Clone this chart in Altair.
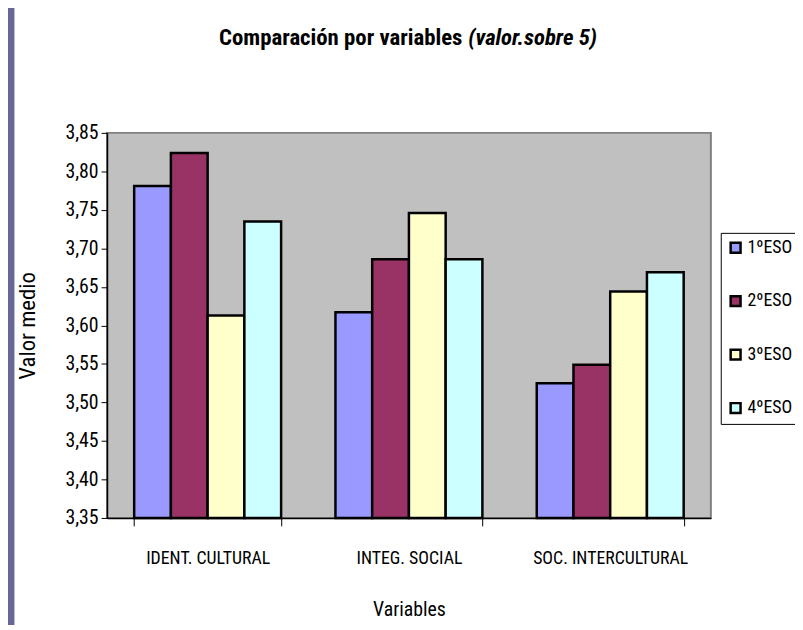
import altair as alt
import pandas as pd

categories = ["IDENT. CULTURAL", "INTEG. SOCIAL", "SOC. INTERCULTURAL"]
series = ["1ºESO", "2ºESO", "3ºESO", "4ºESO"]
values_1eso = [3.781, 3.617, 3.525]
values_2eso = [3.824, 3.686, 3.549]
values_3eso = [3.613, 3.746, 3.644]
values_4eso = [3.735, 3.686, 3.669]
colors = ["#9999FF", "#993366", "#FFFFCC", "#CCFFFF"]
y_ticks = [3.35, 3.40, 3.45, 3.50, 3.55, 3.60, 3.65, 3.70, 3.75, 3.80, 3.85]
title_main = "Comparación por variables"
title_italic = "(valor.sobre 5)"
y_title = "Valor medio"
x_title = "Variables"

rows = []
for s, vals in zip(series, [values_1eso, values_2eso, values_3eso, values_4eso]):
    for c, v in zip(categories, vals):
        rows.append({"categoria": c, "serie": s, "valor": v})
df = pd.DataFrame(rows)

FONT = "Liberation Sans Narrow, Arial Narrow, Roboto Condensed, DejaVu Sans Condensed, sans-serif"
W, H = 610, 389

bars = alt.Chart(df).mark_bar(stroke="black", strokeWidth=2.5).encode(
    x=alt.X("categoria:N", sort=categories, title=x_title,
            scale=alt.Scale(paddingInner=0.27, paddingOuter=0.135),
            axis=alt.Axis(labelAngle=0, tickBand="extent", tickSize=8, tickColor="black",
                          domainColor="black", domainWidth=1.5, labelFontSize=18,
                          labelPadding=24, labelFont=FONT, labelColor="black",
                          titleFont=FONT, titleFontSize=20, titleFontWeight="normal",
                          titleY=93, titleBaseline="middle", titleColor="black")),
    xOffset=alt.XOffset("serie:N", sort=series, scale=alt.Scale(paddingInner=0, paddingOuter=0)),
    y=alt.Y("valor:Q", title=y_title,
            scale=alt.Scale(domain=[3.35, 3.85], zero=False, nice=False),
            axis=alt.Axis(values=y_ticks, format=".2f",
                          labelExpr="replace(datum.label, '.', ',')",
                          grid=False, tickSize=6, tickColor="black", domainColor="black",
                          domainWidth=1.5, labelFontSize=20, labelFont=FONT, labelColor="black",
                          labelPadding=3,
                          titleFont=FONT, titleFontSize=23, titleFontWeight="normal",
                          titleX=-80, titleY=H / 2, titleAngle=-90, titleAlign="center",
                          titleBaseline="middle", titleColor="black")),
    y2=alt.datum(3.35),
    color=alt.Color("serie:N", sort=series, scale=alt.Scale(domain=series, range=colors),
                    legend=alt.Legend(orient="none", legendX=620, legendY=101, title=None,
                                      strokeColor="black", fillColor="white", padding=6,
                                      symbolType="square", symbolSize=100,
                                      symbolStrokeColor="black", symbolStrokeWidth=2.5,
                                      symbolOpacity=1,
                                      labelFontSize=18, labelFont=FONT, labelColor="black",
                                      rowPadding=34, labelOffset=3)),
)

t1 = alt.Chart(pd.DataFrame({"t": [title_main]})).mark_text(
    font=FONT, fontSize=23, fontWeight="bold", align="right", baseline="middle", color="black"
).encode(text="t:N", x=alt.value(359), y=alt.value(-96))

t2 = alt.Chart(pd.DataFrame({"t": [title_italic]})).mark_text(
    font=FONT, fontSize=23, fontWeight="bold", fontStyle="italic", align="left",
    baseline="middle", color="black"
).encode(text="t:N", x=alt.value(365), y=alt.value(-96))

side = alt.Chart(pd.DataFrame({"a": [0]})).mark_rule(color="#666699", strokeWidth=7).encode(
    x=alt.value(-97), y=alt.value(-131), y2=alt.value(500))

chart = alt.layer(side, bars, t1, t2).properties(
    width=W, height=H,
    background="white",
    autosize=alt.AutoSizeParams(type="none"),
    padding={"left": 100, "top": 123, "right": 85, "bottom": 105},
).configure_view(fill="#C0C0C0", stroke="#808080", strokeWidth=2)

chart.save("out.html", embed_options={"renderer": "svg", "actions": False})
